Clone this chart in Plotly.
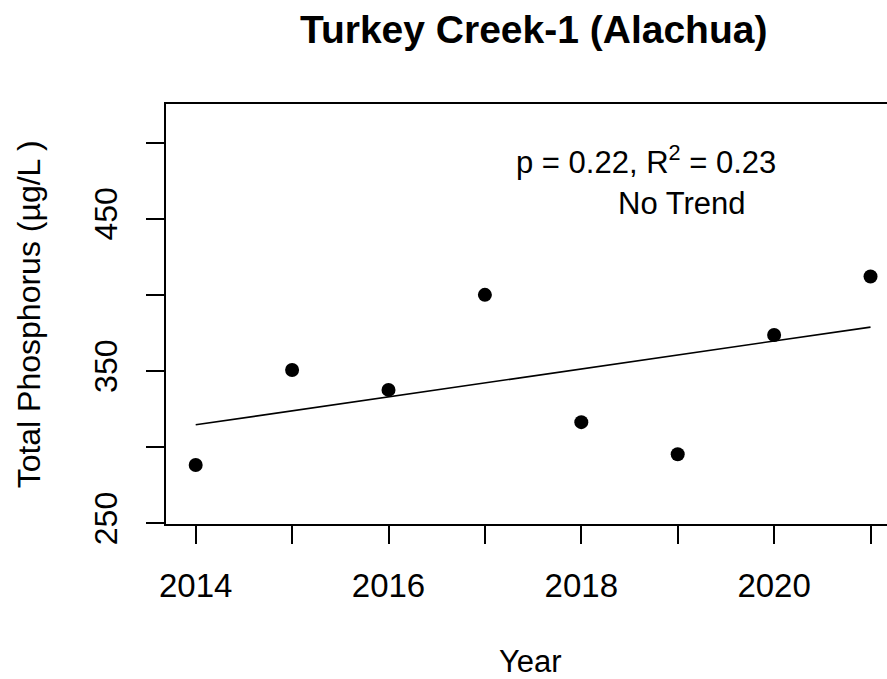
import numpy as np
import plotly.graph_objects as go

# Annual total phosphorus at Turkey Creek-1 (Alachua)
years = [2014, 2015, 2016, 2017, 2018, 2019, 2020, 2021]
tp_ugl = [288.3, 350.7, 337.6, 400.0, 316.4, 295.3, 373.6, 412.0]

# every year / every 50 ug/L gets a tick mark; only some carry a label
x_tick_marks = [2014, 2015, 2016, 2017, 2018, 2019, 2020, 2021]
x_tick_labels = ["2014", "2016", "2018", "2020"]
y_tick_marks = [250, 300, 350, 400, 450, 500]
y_tick_labels = ["250", "350", "450"]

stats_line = "p = 0.22, R<sup>2</sup> = 0.23"
trend_line = "No Trend"

FONT = "Liberation Sans, Arial, sans-serif"

# least-squares trend over the sampled years
slope, intercept = np.polyfit(years, tp_ugl, 1)
fit_x = np.array([years[0], years[-1]])
fit_y = slope * fit_x + intercept

fig = go.Figure()
fig.add_trace(go.Scatter(
    x=fit_x, y=fit_y, mode="lines",
    line=dict(color="black", width=1.6),
    hoverinfo="skip", showlegend=False,
))
fig.add_trace(go.Scatter(
    x=years, y=tp_ugl, mode="markers",
    marker=dict(color="black", size=14, line=dict(width=0)),
    showlegend=False,
))

tick_style = dict(ticks="outside", ticklen=18, tickwidth=2, tickcolor="black")

fig.update_layout(
    width=887, height=679,
    margin=dict(l=166, r=0, t=104, b=155, pad=0),
    paper_bgcolor="white", plot_bgcolor="white",
    font=dict(family=FONT, size=31, color="black"),
    title=dict(
        text="<b>Turkey Creek-1 (Alachua)</b>",
        font=dict(family=FONT, size=39, color="black"),
        x=0.51, xref="paper", xanchor="center",
        y=1 - 29 / 679, yref="container", yanchor="middle",
    ),
    xaxis=dict(
        range=[2013.692, 2021.171],
        tickvals=[int(t) for t in x_tick_labels], ticktext=x_tick_labels,
        **tick_style,
        minor=dict(tickvals=x_tick_marks, **tick_style, showgrid=False),
        showline=True, linewidth=2, linecolor="black", mirror=True,
        showgrid=False, zeroline=False,
        tickfont=dict(family=FONT, size=33, color="black"),
        ticklabelstandoff=13,
    ),
    yaxis=dict(
        range=[249.54, 525.3],
        tickvals=[int(t) for t in y_tick_labels], ticktext=y_tick_labels,
        **tick_style,
        minor=dict(tickvals=y_tick_marks, **tick_style, showgrid=False),
        showline=True, linewidth=2, linecolor="black", mirror=False,
        showgrid=False, zeroline=False, tickangle=-90,
        tickfont=dict(family=FONT, size=32, color="black"),
        ticklabelstandoff=16,
    ),
    annotations=[
        dict(text="Year", xref="paper", yref="paper",
             x=0.506, y=-0.327, xanchor="center", yanchor="middle",
             showarrow=False, font=dict(family=FONT, size=31, color="black")),
        dict(text="Total Phosphorus (\u00b5g/L )", xref="paper", yref="paper",
             x=-0.1895, y=0.5, xanchor="center", yanchor="middle",
             textangle=-90, showarrow=False,
             font=dict(family=FONT, size=32, color="black")),
        dict(text=stats_line, xref="x", yref="y",
             x=2018.676, y=488.5, xanchor="center", yanchor="middle",
             showarrow=False, font=dict(family=FONT, size=31, color="black")),
        dict(text=trend_line, xref="x", yref="y",
             x=2019.045, y=459.7, xanchor="center", yanchor="middle",
             showarrow=False, font=dict(family=FONT, size=31, color="black")),
    ],
)

fig.write_html("out.html")
